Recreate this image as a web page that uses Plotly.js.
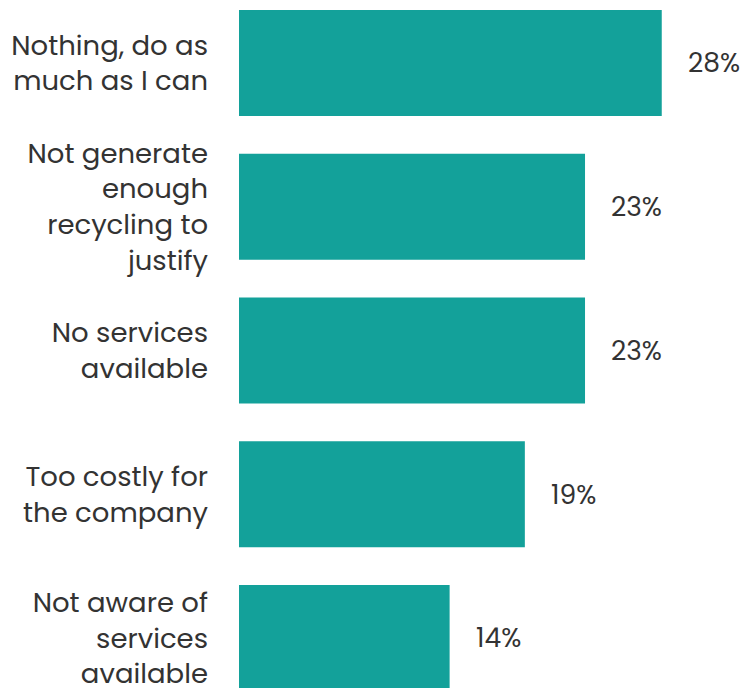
<!DOCTYPE html>
<html>
<head>
<meta charset="utf-8">
<script src="https://cdn.plot.ly/plotly-3.0.1.min.js"></script>
<style>html,body{margin:0;padding:0;background:#fff;}#chart{width:746px;height:688px;}</style>
</head>
<body>
<div id="chart"></div>
<script>
var categories = [
  "Nothing, do as<br>much as I can",
  "Not generate<br>enough<br>recycling to<br>justify",
  "No services<br>available",
  "Too costly for<br>the company",
  "Not aware of<br>services<br>available"
];
var values = [28.1, 23, 23, 19, 14];
var valueLabels = ["28%", "23%", "23%", "19%", "14%"];

var fontFamily = "Poppins, 'Noto Sans', sans-serif";
var textColor = "#333333";
var barColor = "#13a19a";

var trace = {
  type: "bar",
  orientation: "h",
  x: values,
  y: categories,
  marker: {color: barColor},
  hoverinfo: "none"
};

var annotations = values.map(function(v, i){
  return {
    x: v, y: categories[i], xref: "x", yref: "y",
    text: valueLabels[i], showarrow: false,
    xanchor: "left", yanchor: "middle", xshift: 24,
    font: {family: fontFamily, size: 26.5, color: textColor}
  };
});

var layout = {
  width: 746, height: 688,
  margin: {l: 239, r: 0, t: 0, b: 0},
  paper_bgcolor: "#fff", plot_bgcolor: "#fff",
  showlegend: false,
  bargap: 0.263,
  xaxis: {range: [0, 33.7], visible: false, fixedrange: true},
  yaxis: {
    type: "category",
    range: [4.348, -0.438],
    showgrid: false, zeroline: false, showline: false,
    ticks: "", ticklabelstandoff: 30,
    tickfont: {family: fontFamily, size: 27.5, color: textColor}
  },
  annotations: annotations
};

Plotly.newPlot("chart", [trace], layout, {staticPlot: true});
</script>
</body>
</html>
